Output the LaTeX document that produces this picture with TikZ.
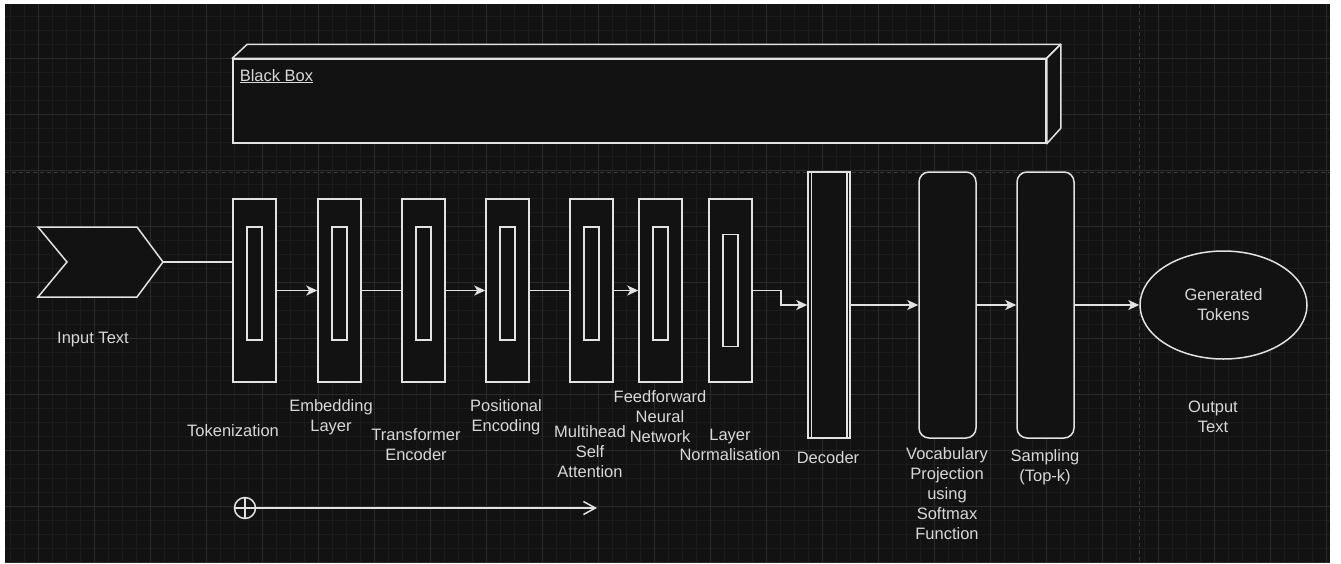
\documentclass[tikz,border=0pt]{standalone}
\usepackage{fontspec}
\setmainfont{Liberation Sans}
\usetikzlibrary{arrows.meta,shapes.geometric}
\definecolor{paper}{HTML}{FFFFFF}
\definecolor{canvas}{HTML}{121212}
\definecolor{minorgrid}{HTML}{1C1C1C}
\definecolor{majorgrid}{HTML}{2B2B2B}
\definecolor{pagebreak}{HTML}{3A3A3A}
\definecolor{ink}{HTML}{E2E2E2}
\definecolor{txt}{HTML}{D8D8D8}

\begin{document}
\begin{tikzpicture}[x=1pt, y=-1pt,
    line width=1.5pt, >={Stealth[length=11pt,width=10pt,inset=3pt]},
    color=ink,
    lab/.style={font=\fontsize{16.5}{20}\selectfont, text=txt, align=center, inner sep=0pt},
    layer/.style={draw=ink, fill=canvas, minimum width=43pt, minimum height=183pt, inner sep=0pt},
    core/.style={draw=ink, fill=canvas, minimum width=15pt, minimum height=113pt, inner sep=0pt},
    stage/.style={draw=ink, fill=canvas, rounded corners=10pt, minimum width=57pt, minimum height=266pt, inner sep=0pt}]
  % fixed canvas, same size as the screenshot
  \path[use as bounding box] (0,0) rectangle (1341,563);
  \fill[paper] (0,0) rectangle (1341,563);
  \fill[canvas] (5,4) rectangle (1330,563);

  % ================= background grid =================
  \begin{scope}
    \clip (5,4) rectangle (1330,563);
    \foreach \x in {10,24,...,1330}
      \draw[minorgrid, line width=0.8pt] (\x,4) -- (\x,563);
    \foreach \y in {2,16,...,563}
      \draw[minorgrid, line width=0.8pt] (5,\y) -- (1330,\y);
    \foreach \x in {38,94,...,1330}
      \draw[majorgrid, line width=1pt] (\x,4) -- (\x,563);
    \foreach \y in {58,114,...,563}
      \draw[majorgrid, line width=1pt] (5,\y) -- (1330,\y);
  \end{scope}
  % page breaks
  \draw[pagebreak, line width=1pt, dash pattern=on 4pt off 3pt] (5,172) -- (1330,172);
  \draw[pagebreak, line width=1pt, dash pattern=on 4pt off 3pt] (1139,4) -- (1139,563);

  % ================= black box (cube) =================
  \node[draw=ink, fill=canvas, minimum width=813pt, minimum height=84pt, inner sep=0pt] (bbox) at (639.5,101) {};
  \draw[fill=canvas, line join=round] (bbox.north west) -- ++(15,-14) -- ([shift={(14,-14)}]bbox.north east) -- (bbox.north east) -- cycle;
  \draw[fill=canvas, line join=round] (bbox.north east) -- ++(14,-14) -- ++(0,84) -- (bbox.south east) -- cycle;
  \node[lab, anchor=base west] (bbox-lab) at (239,81) {\underline{Black Box}};

  % ================= input =================
  \draw[fill=canvas] (38,227) -- (137,227) -- (163,262) -- (137,297) -- (38,297) -- (67,262) -- cycle;
  \coordinate (in-tip) at (163,262);
  \node[lab] (in-lab) at (93,340) {Input Text};

  % ================= encoder layers =================
  \node[layer] (tok) at (254.5,290.5) {};
  \node[layer] (emb) at (339.5,290.5) {};
  \node[layer] (trf) at (423.5,290.5) {};
  \node[layer] (pos) at (507.5,290.5) {};
  \node[layer] (mha) at (591.5,290.5) {};
  \node[layer] (ffn) at (660.5,290.5) {};
  \node[layer] (ln)  at (730.5,290.5) {};
  \foreach \n in {tok,emb,trf,pos,mha,ffn}
    \node[core] at ([yshift=7]\n.center) {};
  \node[core, minimum height=112pt] at (ln.center) {};

  \draw (in-tip) -- (in-tip -| tok.west);
  \draw[->] (tok) -- (emb);
  \draw (emb) -- (trf);
  \draw[->] (trf) -- (pos);
  \draw (pos) -- (mha);
  \draw[->] (mha) -- (ffn);

  % ================= decoder and output stages =================
  \node[draw=ink, fill=canvas, minimum width=42pt, minimum height=266pt, inner sep=0pt] (dec) at (829,305) {};
  \draw ([xshift=4]dec.north west) -- ([xshift=4]dec.south west);
  \draw ([xshift=-4]dec.north east) -- ([xshift=-4]dec.south east);
  \node[stage] (voc) at (947.5,305) {};
  \node[stage] (sam) at (1045.5,305) {};
  \node[ellipse, draw=ink, fill=canvas, minimum width=167pt, minimum height=108pt, inner sep=0pt,
        lab] (gen) at (1223.5,305) {Generated\\Tokens};

  \draw[->] (ln.east) -- ++(28,0) |- (dec.west);
  \draw[->] (dec) -- (voc);
  \draw[->] (voc) -- (sam);
  \draw[->] (sam) -- (gen);

  % ================= labels =================
  \node[lab] (tok-lab) at (233,431) {Tokenization};
  \node[lab] (emb-lab) at (331,417) {Embedding\\Layer};
  \node[lab] (trf-lab) at (416,445) {Transformer\\Encoder};
  \node[lab] (pos-lab) at (506,417) {Positional\\Encoding};
  \node[lab] (mha-lab) at (590,452) {Multihead\\Self\\Attention};
  \node[lab] (ffn-lab) at (660,417) {Feedforward\\Neural\\Network};
  \node[lab] (ln-lab)  at (730,445) {Layer\\Normalisation};
  \node[lab] (dec-lab) at (828,458) {Decoder};
  \node[lab] (voc-lab) at (947,494) {Vocabulary\\Projection\\using\\Softmax\\Function};
  \node[lab] (sam-lab) at (1045,467) {Sampling\\(Top-k)};
  \node[lab] (out-lab) at (1213,417) {Output\\Text};

  % ================= residual sum =================
  \node[circle, draw=ink, fill=canvas, minimum size=21pt, inner sep=0pt] (sum) at (245,508) {};
  \draw (sum.north) -- (sum.south);
  \draw (sum.west) -- (sum.east);
  \coordinate (sum-end) at (597,508);
  \draw[-{Straight Barb[length=12pt,width=13pt]}] (sum.east) -- (sum-end);
\end{tikzpicture}
\end{document}
